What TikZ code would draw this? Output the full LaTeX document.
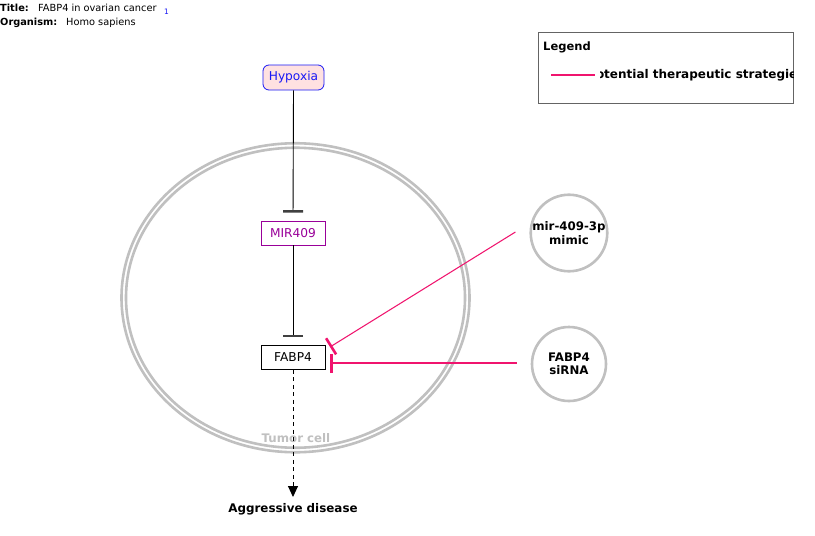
\documentclass[tikz,border=0pt]{standalone}
\usepackage{fontspec}
\setmainfont{DejaVu Sans}
\usetikzlibrary{arrows.meta,calc}
\definecolor{pinkline}{RGB}{240,20,110}
\definecolor{cellgray}{RGB}{192,192,192}
\definecolor{mirpurple}{RGB}{153,0,153}
\definecolor{hypblue}{RGB}{25,25,245}
\definecolor{hypfill}{RGB}{255,225,225}
\definecolor{legendgray}{RGB}{100,100,100}
\begin{document}
\begin{tikzpicture}[x=1pt,y=-1pt,every node/.style={inner sep=0pt},
  genebox/.style={draw, minimum width=64pt, minimum height=24pt, font=\fontsize{12.2}{14}\selectfont, line width=0.8pt},
  drug/.style={circle, draw=cellgray, line width=2.6pt, minimum size=74pt, font=\bfseries\fontsize{11.8}{13.5}\selectfont, align=center},
  inhib/.style={draw=black, line width=0.9pt, -{Bar[width=20pt,line width=2.5pt,color=black!75]}, shorten >=8pt},
  pinkinhib/.style={draw=pinkline, line width=1.05pt, -{Bar[width=19pt,line width=2.6pt]}},
  cellwall/.style={draw=cellgray, line width=2.6pt},
  small/.style={font=\fontsize{9.8}{11}\selectfont, anchor=base west},
  smallb/.style={font=\bfseries\fontsize{9.8}{11}\selectfont, anchor=base west}]
\useasboundingbox (0,0) rectangle (815,536);
\fill[white] (0,0) rectangle (815,536);

% title
\node[smallb] (tl) at (0,11) {Title:};
\node[small] (tt) at (38,11) {FABP4 in ovarian cancer};
\node[font=\fontsize{7.5}{8}\selectfont, text=hypblue, anchor=base west] (tref) at (164,14.5) {1};
\node[smallb] (ol) at (0,25) {Organism:};
\node[small] (ot) at (66,25) {Homo sapiens};

% legend
\draw[legendgray, line width=1pt] (538,32) rectangle (793,103);
\node[font=\bfseries\fontsize{11.5}{13}\selectfont, anchor=base west] (leg) at (543,50) {Legend};
\coordinate (l1) at (551,75);
\coordinate (l2) at (595,75);
\draw[pinkline, line width=1.05pt] (l1) -- (l2);
\begin{scope}
  \clip (600,60) rectangle (793,90);
  \node[font=\bfseries\fontsize{12}{13}\selectfont, anchor=west] (legt) at (587,75.5) {Potential therapeutic strategies};
\end{scope}

% cell
\draw[cellwall] (295.5,297.75) ellipse [x radius=174, y radius=154.5];
\draw[cellwall] (295.5,297.75) ellipse [x radius=169.5, y radius=150];
\node[font=\bfseries\fontsize{11.8}{13}\selectfont, text=cellgray] (tumor) at (296,438) {Tumor cell};

% nodes
\node[genebox, draw=hypblue, fill=hypfill, text=hypblue, rounded corners=6pt, minimum width=61pt, minimum height=25pt] (hyp) at (293.5,77.5) {Hypoxia};
\node[genebox, draw=mirpurple, text=mirpurple] (mir) at (293,233) {MIR409};
\node[genebox] (fabp) at (293,357.5) {FABP4};
\node[drug] (mimic) at (569,233) {mir-409-3p\\mimic};
\node[drug] (sirna) at (569,364) {FABP4\\siRNA};
\node[font=\bfseries\fontsize{11.9}{13}\selectfont] (agg) at (293,509) {Aggressive disease};

% edges
\draw[inhib] (hyp.south) -- (mir.north);
\draw[inhib] (mir.south) -- (fabp.north);
\draw[line width=0.9pt, dash pattern=on 4pt off 3.5pt, -{Triangle[width=10pt,length=11pt]}, shorten >=6pt] (fabp.south) -- (agg.north);

\coordinate (ms) at ($(mimic.west)+(-14,-1)$);
\coordinate (me) at (330,347);
\draw[pinkinhib] (ms) -- (me);
\coordinate (ss) at ($(sirna.west)+(-14,-1)$);
\coordinate (se) at (330,363);
\draw[pinkinhib] (ss) -- (se);
\end{tikzpicture}
\end{document}
